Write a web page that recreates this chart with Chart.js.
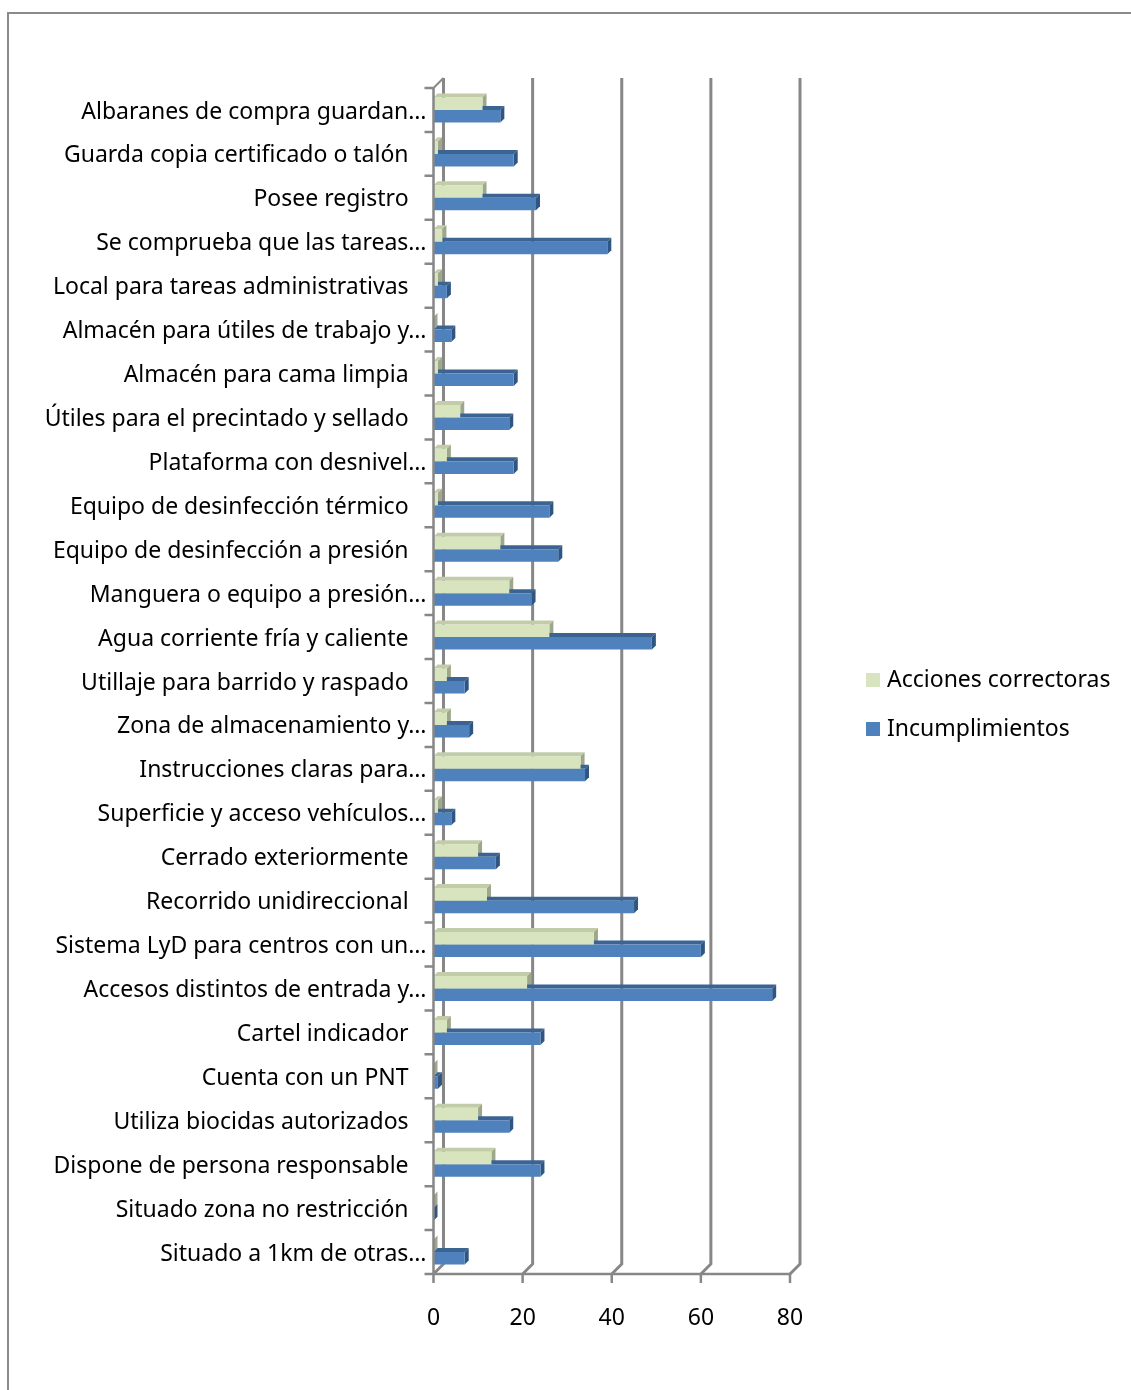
<!DOCTYPE html>
<html>
<head>
<meta charset="utf-8">
<script src="https://cdn.jsdelivr.net/npm/chart.js@4"></script>
<style>
  html, body { margin: 0; padding: 0; background: #fff; overflow: hidden; }
  #frame {
    position: absolute; left: 7px; top: 12px; width: 1200px; height: 1500px;
    border-top: 2px solid #8a8a8a; border-left: 2px solid #8a8a8a;
  }
  #wrap { position: absolute; left: 0; top: 0; width: 1131px; height: 1390px; }
</style>
</head>
<body>
<div id="frame"></div>
<div id="wrap"><canvas id="barChart"></canvas></div>
<script>
// datos del gráfico
const categories = [
  "Albaranes de compra guardan…",
  "Guarda copia certificado o talón",
  "Posee registro",
  "Se comprueba que las tareas…",
  "Local para tareas administrativas",
  "Almacén para útiles de trabajo y…",
  "Almacén para cama limpia",
  "Útiles para el precintado y sellado",
  "Plataforma con desnivel…",
  "Equipo de desinfección térmico",
  "Equipo de desinfección a presión",
  "Manguera o equipo a presión…",
  "Agua corriente fría y caliente",
  "Utillaje para barrido y raspado",
  "Zona de almacenamiento y…",
  "Instrucciones claras para…",
  "Superficie y acceso vehículos…",
  "Cerrado exteriormente",
  "Recorrido unidireccional",
  "Sistema LyD para centros con un…",
  "Accesos distintos de entrada y…",
  "Cartel indicador",
  "Cuenta con un PNT",
  "Utiliza biocidas autorizados",
  "Dispone de persona responsable",
  "Situado zona no restricción",
  "Situado a 1km de otras…",
];
const accionesCorrectoras = [11, 1, 11, 2, 1, 0, 1, 6, 3, 1, 15, 17, 26, 3, 3, 33, 1, 10, 12, 36, 21, 3, 0, 10, 13, 0, 0];
const incumplimientos = [15, 18, 23, 39, 3, 4, 18, 17, 18, 26, 28, 22, 49, 7, 8, 34, 4, 14, 45, 60, 76, 24, 1, 17, 24, 0, 7];
const xTicks = [0, 20, 40, 60, 80];

const FONT = "'Noto Sans', sans-serif";
const AXIS_COLOR = "#878787";
const WALL = 10; // profundidad de la pared del fondo
const DEPTH = 4; // profundidad de las barras

const faceColors = [
  { top: "#c2cca9", side: "#9da78a" },
  { top: "#3b6493", side: "#2f5583" },
];

/**
 * Dibuja la pared del fondo (líneas de cuadrícula) y las caras 3D de las barras
 */
const threeD = {
  id: "threeD",
  beforeDatasetsDraw(chart) {
    const { ctx, chartArea } = chart;
    const xs = chart.scales.x;
    ctx.save();
    ctx.strokeStyle = AXIS_COLOR;
    ctx.lineWidth = 3;
    xTicks.forEach((v) => {
      const x = xs.getPixelForValue(v);
      ctx.beginPath();
      ctx.moveTo(x + WALL, chartArea.top - WALL);
      ctx.lineTo(x + WALL, chartArea.bottom - WALL);
      ctx.lineTo(x, chartArea.bottom);
      ctx.stroke();
    });
    ctx.lineWidth = 2;
    ctx.beginPath();
    ctx.moveTo(chartArea.left, chartArea.top);
    ctx.lineTo(chartArea.left + WALL, chartArea.top - WALL);
    ctx.stroke();

    // caras superior y lateral de cada barra
    chart.data.datasets.forEach((ds, i) => {
      const meta = chart.getDatasetMeta(i);
      meta.data.forEach((bar) => {
        const top = bar.y - bar.height / 2;
        const bottom = bar.y + bar.height / 2;
        ctx.fillStyle = faceColors[i].top;
        ctx.beginPath();
        ctx.moveTo(bar.base, top);
        ctx.lineTo(bar.x, top);
        ctx.lineTo(bar.x + DEPTH, top - DEPTH);
        ctx.lineTo(bar.base + DEPTH, top - DEPTH);
        ctx.closePath();
        ctx.fill();
        ctx.fillStyle = faceColors[i].side;
        ctx.beginPath();
        ctx.moveTo(bar.x, top);
        ctx.lineTo(bar.x + DEPTH, top - DEPTH);
        ctx.lineTo(bar.x + DEPTH, bottom - DEPTH);
        ctx.lineTo(bar.x, bottom);
        ctx.closePath();
        ctx.fill();
      });
    });
    ctx.restore();
  },
  afterDatasetsDraw(chart) {
    const { ctx, chartArea } = chart;
    const xs = chart.scales.x;
    ctx.save();
    ctx.strokeStyle = AXIS_COLOR;
    ctx.lineWidth = 2.5;
    ctx.beginPath();
    ctx.moveTo(chartArea.left, chartArea.top);
    ctx.lineTo(chartArea.left, chartArea.bottom);
    ctx.lineTo(chartArea.right, chartArea.bottom);
    // marcas del eje de categorías
    const step = (chartArea.bottom - chartArea.top) / categories.length;
    for (let i = 0; i <= categories.length; i++) {
      const y = chartArea.top + i * step;
      ctx.moveTo(chartArea.left - 9, y);
      ctx.lineTo(chartArea.left, y);
    }
    xTicks.forEach((v) => {
      const x = xs.getPixelForValue(v);
      ctx.moveTo(x, chartArea.bottom);
      ctx.lineTo(x, chartArea.bottom + 9);
    });
    ctx.stroke();
    ctx.restore();
  },
  afterDraw(chart) {
    // leyenda a la derecha
    const { ctx } = chart;
    ctx.save();
    ctx.font = "23px " + FONT;
    ctx.textBaseline = "middle";
    chart.data.datasets.forEach((ds, i) => {
      const y = 680 + i * 49;
      ctx.fillStyle = ds.backgroundColor;
      ctx.fillRect(866, y - 7, 14, 14);
      ctx.fillStyle = "#000";
      ctx.fillText(ds.label, 887, y);
    });
    ctx.restore();
  },
};

function renderChart() {
  const ctx = document.getElementById("barChart").getContext("2d");
  new Chart(ctx, {
    type: "bar",
    data: {
      labels: categories,
      datasets: [
        {
          label: "Acciones correctoras",
          data: accionesCorrectoras,
          backgroundColor: "#d7e4bd",
          borderWidth: 0,
        },
        {
          label: "Incumplimientos",
          data: incumplimientos,
          backgroundColor: "#4f81bd",
          borderWidth: 0,
        },
      ],
    },
    options: {
      indexAxis: "y",
      responsive: true,
      maintainAspectRatio: false,
      animation: false,
      categoryPercentage: 0.57,
      barPercentage: 1,
      layout: { padding: { left: 0, top: 88, right: 341, bottom: 0 } },
      plugins: {
        legend: { display: false },
        tooltip: { enabled: false },
      },
      scales: {
        x: {
          min: 0,
          max: 80,
          ticks: {
            stepSize: 20,
            padding: 31,
            color: "#000",
            font: { family: FONT, size: 23 },
          },
          grid: { display: false, drawTicks: false },
          border: { display: false },
          afterFit: (scale) => { scale.height = 116; },
        },
        y: {
          ticks: {
            padding: 7,
            labelOffset: 2,
            color: "#000",
            autoSkip: false,
            font: { family: FONT, size: 23 },
            callback: function (value) {
              const lbl = this.getLabelForValue(value);
              return lbl.endsWith("…") ? lbl : lbl + "\u00a0\u00a0\u00a0";
            },
          },
          grid: { display: false, drawTicks: false },
          border: { display: false },
          afterFit: (scale) => { scale.width = 433.5; },
        },
      },
    },
    plugins: [threeD],
  });
}

renderChart();
</script>
</body>
</html>
